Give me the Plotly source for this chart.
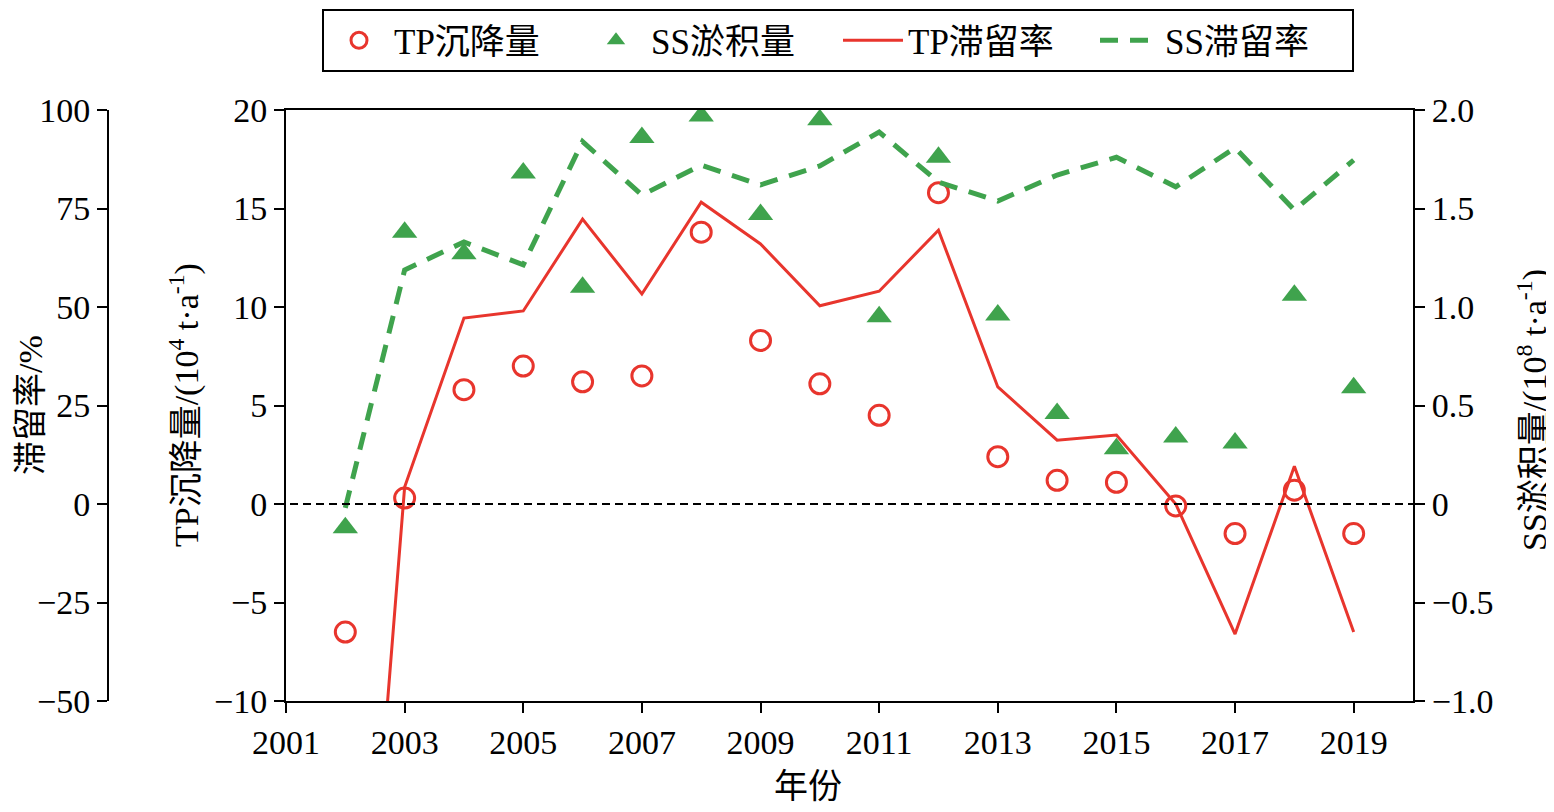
import plotly.graph_objects as go

years = [2002, 2003, 2004, 2005, 2006, 2007, 2008, 2009, 2010, 2011,
         2012, 2013, 2014, 2015, 2016, 2017, 2018, 2019]
tp_settle = [-6.5, 0.3, 5.8, 7.0, 6.2, 6.5, 13.8, 8.3, 6.1, 4.5,
             15.8, 2.4, 1.2, 1.1, -0.1, -1.5, 0.7, -1.5]
ss_deposit = [-0.12, 1.38, 1.27, 1.68, 1.10, 1.86, 1.97, 1.47, 1.95, 0.95,
              1.76, 0.96, 0.46, 0.28, 0.34, 0.31, 1.06, 0.59]
tp_retention = [-185, 4.3, 47.2, 49.0, 72.3, 53.3, 76.6, 66.0, 50.3, 54.0,
                69.5, 29.7, 16.2, 17.5, 0.0, -33.0, 9.6, -32.5]
ss_retention = [-1, 59.4, 66.5, 60.7, 92.0, 78.4, 86.0, 81.0, 85.8, 94.4,
                81.7, 76.9, 83.5, 88.0, 80.5, 90.4, 74.6, 87.3]

RED = "#E8352D"
GREEN = "#3FA34D"
FONT = "Liberation Serif, Times New Roman, Noto Sans CJK SC, serif"
OFF = 8  # page body margin
W, H = 1554 - OFF, 812 - 2 * OFF
# reference pixel positions converted to figure coordinates
L, R, T, B = 286 - OFF, 1413 - OFF, 110 - OFF, 701 - OFF


def fx(p):
    return (p - OFF) / W


def fy(p):
    return (B - (p - OFF)) / (B - T)


fig = go.Figure()
fig.add_trace(go.Scatter(x=years, y=tp_settle, mode="markers", name="TP沉降量",
                         marker=dict(symbol="circle-open", size=20, color=RED,
                                     line=dict(width=3, color=RED)),
                         yaxis="y"))
fig.add_trace(go.Scatter(x=years, y=ss_deposit, mode="markers", name="SS淤积量",
                         marker=dict(symbol="triangle-up", size=22, color=GREEN),
                         yaxis="y2"))
fig.add_trace(go.Scatter(x=years, y=tp_retention, mode="lines", name="TP滞留率",
                         line=dict(color=RED, width=3), yaxis="y3"))
fig.add_trace(go.Scatter(x=years, y=ss_retention, mode="lines", name="SS滞留率",
                         line=dict(color=GREEN, width=5, dash="18px,12px"), yaxis="y3"))

axis_common = dict(showgrid=False, zeroline=False, showline=True, linecolor="black",
                   linewidth=2, ticks="outside", ticklen=10, tickwidth=2,
                   tickcolor="black", automargin=False,
                   tickfont=dict(family=FONT, size=34, color="black"))

fig.update_layout(
    width=W, height=H,
    margin=dict(l=0, r=0, t=T, b=H - B, pad=0, autoexpand=False),
    plot_bgcolor="white", paper_bgcolor="white",
    font=dict(family=FONT, size=32, color="black"),
    xaxis=dict(domain=[L / W, R / W], range=[2001, 2020], tick0=2001, dtick=2,
               mirror=True, **axis_common),
    yaxis=dict(range=[-10, 20], dtick=5, **axis_common),
    yaxis2=dict(range=[-1, 2], tickvals=[-1, -0.5, 0, 0.5, 1, 1.5, 2],
                ticktext=["−1.0", "−0.5", "0", "0.5", "1.0", "1.5", "2.0"],
                overlaying="y", side="right", **axis_common),
    yaxis3=dict(range=[-50, 100], dtick=25, overlaying="y", anchor="free",
                position=fx(108), side="left", **axis_common),
    showlegend=True,
    legend=dict(orientation="h", x=fx(838), xanchor="center",
                y=fy(OFF + 1), yanchor="top",
                bordercolor="black", borderwidth=2, bgcolor="white",
                font=dict(family=FONT, size=35, color="black"),
                itemwidth=60, entrywidth=182),
)

# zero reference line
fig.add_shape(type="line", xref="paper", yref="y", x0=fx(290), x1=fx(1413), y0=0, y1=0,
              line=dict(color="black", width=2, dash="8px,5px"))

ann = dict(xref="paper", yref="paper", showarrow=False, xanchor="center",
           yanchor="middle", font=dict(family=FONT, size=34, color="black"))
fig.add_annotation(text="滞留率/%", x=fx(30), y=fy(405), textangle=-90, **ann)
fig.add_annotation(text="TP沉降量/(10<sup>4</sup> t·a<sup>-1</sup>)", x=fx(184), y=fy(405),
                   textangle=-90, **ann)
fig.add_annotation(text="SS淤积量/(10<sup>8</sup> t·a<sup>-1</sup>)", x=fx(1532), y=fy(410),
                   textangle=-90, **ann)
fig.add_annotation(text="年份", x=fx(808), y=fy(786), **ann)

fig.write_html("out.html")
